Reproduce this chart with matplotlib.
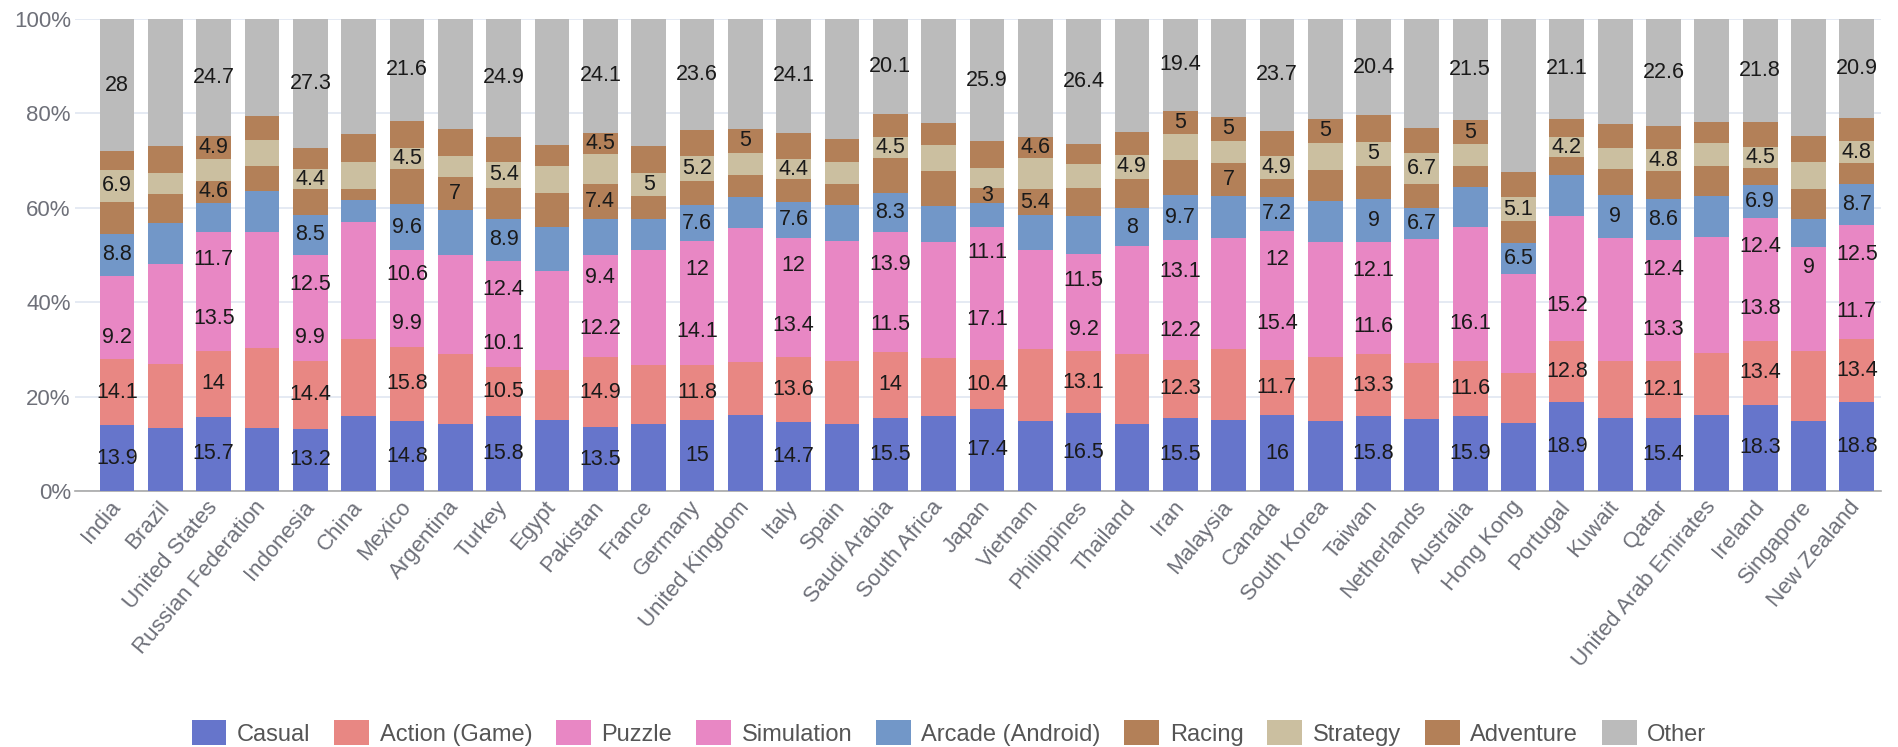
import numpy as np
import matplotlib
matplotlib.use("Agg")
import matplotlib.pyplot as plt
from matplotlib.patches import Patch

plt.rcParams['font.family'] = ['Liberation Sans', 'DejaVu Sans']

countries = ["India", "Brazil", "United States", "Russian Federation", "Indonesia", "China",
             "Mexico", "Argentina", "Turkey", "Egypt", "Pakistan", "France", "Germany",
             "United Kingdom", "Italy", "Spain", "Saudi Arabia", "South Africa", "Japan",
             "Vietnam", "Philippines", "Thailand", "Iran", "Malaysia", "Canada", "South Korea",
             "Taiwan", "Netherlands", "Australia", "Hong Kong", "Portugal", "Kuwait", "Qatar",
             "United Arab Emirates", "Ireland", "Singapore", "New Zealand"]

series_names = ["Casual", "Action (Game)", "Puzzle", "Simulation", "Arcade (Android)",
                "Racing", "Strategy", "Adventure", "Other"]

casual = [13.9, 13.4, 15.7, 13.4, 13.2, 15.9, 14.8, 14.3, 15.8, 15.0, 13.5, 14.3, 15.0, 16.2,
          14.7, 14.3, 15.5, 15.9, 17.4, 14.9, 16.5, 14.3, 15.5, 15.0, 16.0, 14.9, 15.8, 15.3,
          15.9, 14.5, 18.9, 15.5, 15.4, 16.1, 18.3, 14.9, 18.8]
action = [14.1, 13.6, 14.0, 16.8, 14.4, 16.2, 15.8, 14.7, 10.5, 10.6, 14.9, 12.4, 11.8, 11.2,
          13.6, 13.3, 14.0, 12.2, 10.4, 15.1, 13.1, 14.7, 12.3, 15.0, 11.7, 13.4, 13.3, 11.9,
          11.6, 10.6, 12.8, 12.1, 12.1, 13.2, 13.4, 14.8, 13.4]
puzzle = [9.2, 8.5, 13.5, 12.5, 9.9, 9.4, 9.9, 10.5, 10.1, 10.6, 12.2, 13.4, 14.1, 15.5,
          13.4, 13.2, 11.5, 12.6, 17.1, 9.8, 9.2, 11.5, 12.2, 12.0, 15.4, 12.5, 11.6, 13.5,
          16.1, 11.5, 15.2, 13.8, 13.3, 13.1, 13.8, 13.1, 11.7]
simulation = [8.4, 12.6, 11.7, 12.1, 12.5, 15.4, 10.6, 10.5, 12.4, 10.4, 9.4, 11.0, 12.0, 12.9,
              12.0, 12.2, 13.9, 12.0, 11.1, 11.3, 11.5, 11.4, 13.1, 11.5, 12.0, 12.0, 12.1, 12.6,
              12.3, 9.4, 11.4, 12.3, 12.4, 11.5, 12.4, 9.0, 12.5]
arcade = [8.8, 8.6, 6.2, 8.8, 8.5, 4.8, 9.6, 9.5, 8.9, 9.4, 7.6, 6.5, 7.6, 6.4, 7.6, 7.5, 8.3,
          7.7, 5.1, 7.4, 8.0, 8.0, 9.7, 8.9, 7.2, 8.6, 9.0, 6.7, 8.6, 6.5, 8.6, 9.0, 8.6, 8.7,
          6.9, 5.8, 8.7]
racing = [6.8, 6.2, 4.6, 5.3, 5.4, 2.3, 7.5, 7.0, 6.6, 7.1, 7.4, 4.8, 5.2, 4.7, 4.7, 4.5, 7.3,
          7.5, 3.0, 5.4, 6.0, 6.3, 7.3, 7.0, 3.8, 6.6, 7.1, 5.0, 4.4, 4.6, 3.8, 5.5, 5.9, 6.3,
          3.6, 6.4, 4.3]
strategy = [6.9, 4.5, 4.7, 5.5, 4.4, 5.6, 4.5, 4.5, 5.4, 5.8, 6.4, 5.0, 5.2, 4.8, 4.4, 4.6, 4.5,
            5.4, 4.3, 6.6, 4.9, 4.9, 5.5, 4.8, 4.9, 5.8, 5.0, 6.7, 4.6, 5.1, 4.2, 4.4, 4.8, 4.8,
            4.5, 5.6, 4.8]
adventure = [3.9, 5.6, 4.9, 5.1, 4.4, 6.0, 5.7, 5.6, 5.4, 4.4, 4.5, 5.6, 5.5, 5.0, 5.5, 4.9,
             4.9, 4.6, 5.7, 4.6, 4.4, 5.0, 5.0, 5.0, 5.3, 5.0, 5.7, 5.3, 5.0, 5.3, 4.0, 5.2, 4.9,
             4.4, 5.3, 5.6, 4.9]
other = [28, 27.0, 24.7, 20.5, 27.3, 24.4, 21.6, 23.4, 24.9, 26.7, 24.1, 27.0, 23.6, 23.3, 24.1,
         25.5, 20.1, 22.1, 25.9, 24.9, 26.4, 23.9, 19.4, 20.8, 23.7, 21.2, 20.4, 23.0, 21.5, 32.5,
         21.1, 22.2, 22.6, 21.9, 21.8, 24.8, 20.9]

# which segments carry a value label (series index per country)
shown_labels = [
    [0, 1, 2, 4, 6, 8], [], [0, 1, 2, 3, 5, 7, 8], [], [0, 1, 2, 3, 4, 6, 8], [],
    [0, 1, 2, 3, 4, 6, 8], [5], [0, 1, 2, 3, 4, 6, 8], [], [0, 1, 2, 3, 5, 7, 8], [6],
    [0, 1, 2, 3, 4, 6, 8], [7], [0, 1, 2, 3, 4, 6, 8], [], [0, 1, 2, 3, 4, 6, 8], [],
    [0, 1, 2, 3, 5, 8], [5, 7], [0, 1, 2, 3, 8], [4, 6], [0, 1, 2, 3, 4, 7, 8], [5, 7],
    [0, 1, 2, 3, 4, 6, 8], [7], [0, 1, 2, 3, 4, 6, 8], [4, 6], [0, 1, 2, 7, 8], [4, 6],
    [0, 1, 2, 6, 8], [4], [0, 1, 2, 3, 4, 6, 8], [], [0, 1, 2, 3, 4, 6, 8], [3],
    [0, 1, 2, 3, 4, 6, 8],
]

colors = ["#6675CB", "#E88783", "#E887C4", "#E887C4", "#7297C8",
          "#B38058", "#CBBFA0", "#B38058", "#BBBBBB"]

data = [casual, action, puzzle, simulation, arcade, racing, strategy, adventure, other]

W, H = 1898, 747
fig = plt.figure(figsize=(W / 100, H / 100), dpi=100)
ax = fig.add_axes([75 / W, 1 - 491 / H, (1881 - 75) / W, (491 - 19) / H])

x = np.arange(len(countries))
bottom = np.zeros(len(countries))
for k, vals in enumerate(data):
    vals = np.array(vals, dtype=float)
    ax.bar(x, vals, bottom=bottom, width=0.72, color=colors[k], linewidth=0, zorder=3)
    for i in range(len(countries)):
        if k in shown_labels[i]:
            ax.text(x[i], bottom[i] + vals[i] / 2, f"{vals[i]:g}", ha="center", va="center",
                    fontsize=15.5, color="#1a1a1a", zorder=4)
    bottom += vals

ax.set_xlim(-0.87, len(countries) - 0.5)
ax.set_ylim(0, 100)
ax.set_yticks(range(0, 101, 20))
ax.set_yticklabels([f"{v}%" for v in range(0, 101, 20)])
ax.yaxis.grid(True, color="#E0E6F1", linewidth=1.2, zorder=0)
ax.set_axisbelow(True)
for s in ["top", "right", "left"]:
    ax.spines[s].set_visible(False)
ax.spines["bottom"].set_color("#A8A8A8")
ax.spines["bottom"].set_linewidth(1.2)
ax.tick_params(axis="y", length=0, pad=3, labelsize=16, labelcolor="#6E7079")
ax.tick_params(axis="x", length=0, pad=9, labelsize=16, labelcolor="#6E7079")
ax.set_xticks(x)
ax.set_xticklabels(countries, rotation=50, ha="right", va="center", rotation_mode="anchor")

handles = [Patch(facecolor=c, edgecolor="none") for c in colors]
fig.legend(handles, series_names, loc="center", bbox_to_anchor=(0.5, 14 / H), ncol=9,
           frameon=False, fontsize=17, labelcolor="#555555", handlelength=1.48,
           handleheight=1.2, handletextpad=0.45, columnspacing=1.0)

fig.savefig("out.png", dpi=100)
